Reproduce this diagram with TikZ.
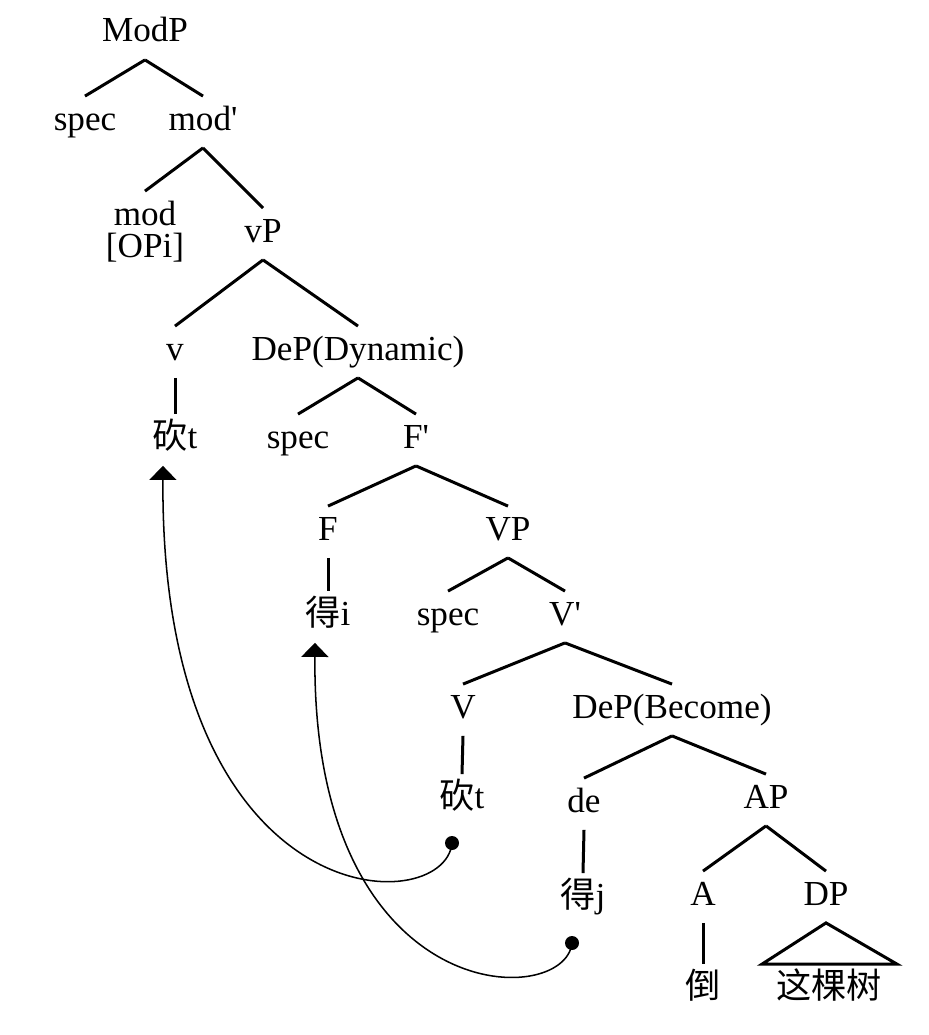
\documentclass[tikz,border=0pt]{standalone}
\usepackage{fontspec}
\setmainfont{Liberation Serif}
\newfontfamily\cjk{Noto Sans CJK SC}
\usetikzlibrary{arrows.meta}
\begin{document}
\begin{tikzpicture}[x=0.03cm, y=-0.03cm,
    lbl/.style = {font=\fontsize{30}{34}\selectfont, anchor=base, inner sep=0.27cm,
                  text height=0.74cm, text depth=0.26cm},
    branch/.style = {line width=0.09cm},
    move/.style = {line width=1.3pt, -{Triangle[width=0.81cm, length=0.42cm]}},
    dot/.style = {circle, fill, inner sep=0pt, minimum size=0.42cm}]
            \useasboundingbox (0,0) rectangle (929,1035);
            \node[lbl] (modp) at (145,42) {ModP};
            \node[lbl] (spec1) at (85,130) {spec};
            \node[lbl] (modbar) at (203,130) {mod\textquotesingle};
            \node[lbl] (mod) at (145,225) {mod};
            \node[lbl] (opi) at (145,257) {[OPi]};
            \node[lbl] (vp) at (263,242) {vP};
            \node[lbl] (v) at (175,360) {v};
            \node[lbl] (dynp) at (358,360) {DeP(Dynamic)};
            \node[lbl] (kanA) at (175,448) {{\cjk 砍}t};
            \node[lbl] (spec2) at (298,448) {spec};
            \node[lbl] (fbar) at (416,448) {F\textquotesingle};
            \node[lbl] (f) at (328,540) {F};
            \node[lbl] (vpbig) at (508,540) {VP};
            \node[lbl] (deA) at (328,625) {{\cjk 得}i};
            \node[lbl] (spec3) at (448,625) {spec};
            \node[lbl] (vbar) at (565,625) {V\textquotesingle};
            \node[lbl] (vbig) at (463,718) {V};
            \node[lbl] (becp) at (672,718) {DeP(Become)};
            \node[lbl] (kanB) at (462,808) {{\cjk 砍}t};
            \node[lbl] (de) at (584,812) {de};
            \node[lbl] (ap) at (766,808) {AP};
            \node[lbl] (deB) at (583,907) {{\cjk 得}j};
            \node[lbl] (a) at (703,905) {A};
            \node[lbl] (dp) at (826,905) {DP};
            \node[lbl] (dao) at (703,998) {{\cjk 倒}};
            \node[lbl] (tree) at (829,998) {{\cjk 这棵树}};
            \foreach \p/\c in {modp/spec1, modp/modbar, modbar/mod, modbar/vp, vp/v, vp/dynp,
                               v/kanA, dynp/spec2, dynp/fbar, fbar/f, fbar/vpbig, f/deA,
                               vpbig/spec3, vpbig/vbar, vbar/vbig, vbar/becp, vbig/kanB,
                               becp/de, becp/ap, de/deB, ap/a, ap/dp, a/dao}
                \draw[branch] (\p.south) -- (\c.north);
            \draw[branch] (dp.south) -- ([xshift=-0.15cm]tree.north west)
                -- ([xshift=0.18cm]tree.north east) -- cycle;
            \node[dot] (dotA) at (452,843) {};
            \node[dot] (dotB) at (572,943) {};
            \draw[move] (dotA.center) .. controls (445,920) and (160,920) .. ([xshift=-0.36cm]kanA.south);
            \draw[move] (dotB.center) .. controls (565,1010) and (312,1010) .. ([xshift=-0.39cm]deA.south);
        \end{tikzpicture}
\end{document}
